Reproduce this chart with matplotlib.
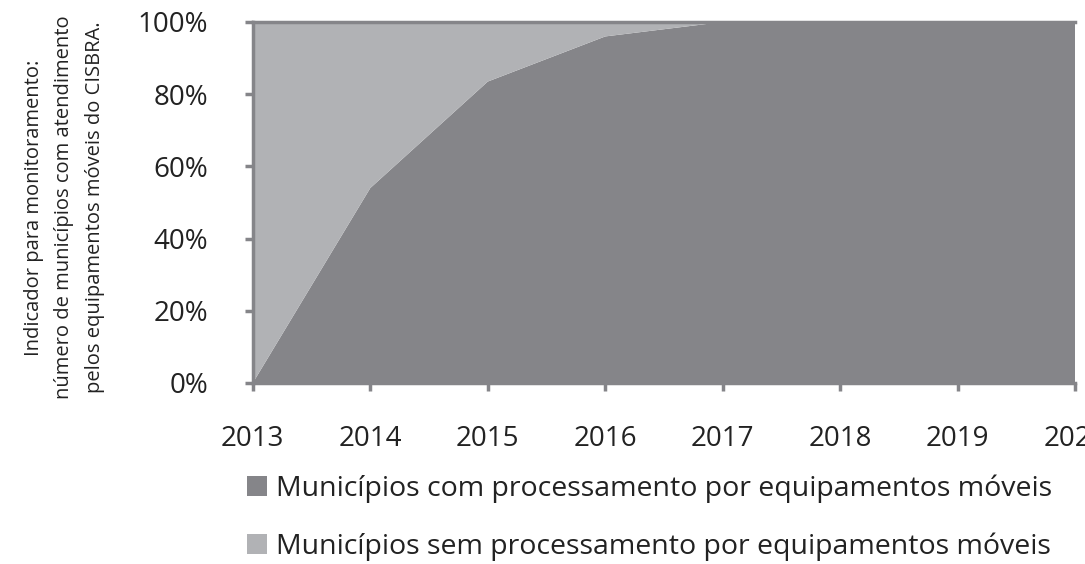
import numpy as np
import matplotlib.pyplot as plt
from matplotlib.patches import Patch
from matplotlib.ticker import PercentFormatter

# data
anos = [2013, 2014, 2015, 2016, 2017, 2018, 2019, 2020]
com_proc = [0, 54, 83.5, 96, 100, 100, 100, 100]
sem_proc = [100 - v for v in com_proc]

serie_nomes = ["Municípios com processamento por equipamentos móveis",
               "Municípios sem processamento por equipamentos móveis"]
cores = ["#858589", "#b1b2b5"]
ylabel = ("Indicador para monitoramento:\n"
          "número de municípios com atendimento\n"
          "pelos equipamentos móveis do CISBRA.")

plt.rcParams['font.family'] = ['Open Sans', 'DejaVu Sans']

fig = plt.figure(figsize=(10.85, 5.64), dpi=100)
ax = fig.add_axes([0.233, 0.321, 0.758, 0.640])

ax.stackplot(anos, com_proc, sem_proc, colors=cores, linewidth=0)

ax.set_xlim(anos[0], anos[-1])
ax.set_ylim(0, 100)
ax.set_xticks(anos)
ax.set_yticks([0, 20, 40, 60, 80, 100])
ax.yaxis.set_major_formatter(PercentFormatter(decimals=0))

gris = "#858589"
for s in ["left", "bottom", "top"]:
    ax.spines[s].set_color(gris)
    ax.spines[s].set_linewidth(2.5)
ax.spines["right"].set_visible(False)
ax.tick_params(axis="both", color=gris, width=2.5, length=6, labelsize=20,
               labelcolor="#222222")
ax.tick_params(axis="x", pad=24)
ax.tick_params(axis="y", pad=26)

fig.text(0.059, 0.632, ylabel, rotation=90, ha="center", va="center",
         multialignment="center", fontsize=14.5, color="#222222",
         linespacing=1.7)

handles = [Patch(facecolor=c, edgecolor="none") for c in cores]
fig.legend(handles, serie_nomes, loc="lower right", bbox_to_anchor=(0.993, -0.04),
           frameon=False, fontsize=20.5, handlelength=0.7, handleheight=0.7,
           handletextpad=0.3, labelspacing=1.05, labelcolor="#222222")

fig.savefig("out.png", dpi=100)
